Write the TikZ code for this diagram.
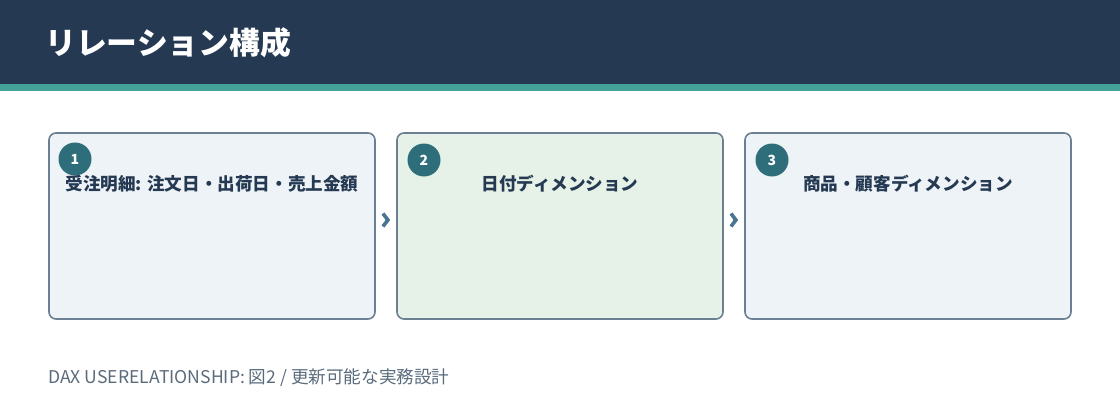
\documentclass[tikz,border=0pt]{standalone}
\usepackage{fontspec}
\setmainfont{Noto Sans CJK JP}
\usetikzlibrary{arrows.meta}
\definecolor{hdr}{HTML}{253A52}
\definecolor{stripe}{HTML}{45A29A}
\definecolor{frame}{HTML}{6B8093}
\definecolor{boxblue}{HTML}{EEF3F8}
\definecolor{boxgreen}{HTML}{E6F2E8}
\definecolor{badge}{HTML}{2E6E7A}
\definecolor{txt}{HTML}{253A52}
\definecolor{chev}{HTML}{4A7590}
\definecolor{foot}{HTML}{5A6B7C}
\tikzset{
  stage/.style={draw=frame, line width=1.6pt, rounded corners=7pt,
    minimum width=326pt, minimum height=186pt, inner sep=0pt},
  num/.style={circle, fill=badge, text=white, minimum size=33pt, inner sep=0pt,
    font=\fontsize{14}{14}\selectfont\bfseries},
  lbl/.style={text=txt, font=\fontsize{17.6}{19}\selectfont\bfseries},
  link/.style={draw=chev, line width=3.6pt, shorten <=9pt, shorten >=6pt,
    -{Straight Barb[length=5pt,width=13pt]}}
}
\begin{document}
\begin{tikzpicture}[x=1pt,y=-1pt]
    \useasboundingbox (0,0) rectangle (1120,420);
    \fill[hdr] (0,0) rectangle (1120,84);
    \fill[stripe] (0,84) rectangle (1120,91);
    \node[anchor=west, inner sep=0pt, text=white, font=\fontsize{30.8}{32}\selectfont\bfseries] (title) at (45,43) {リレーション構成};
    \node[stage, fill=boxblue] (s1) at (212,226) {};
    \node[stage, fill=boxgreen] (s2) at (560,226) {};
    \node[stage, fill=boxblue] (s3) at (908,226) {};
    \node[num] (n1) at (75,159) {1};
    \node[num] (n2) at (424,160) {2};
    \node[num] (n3) at (772,160) {3};
    \node[lbl] (l1) at (212,184) {受注明細: 注文日・出荷日・売上金額};
    \node[lbl] (l2) at (560,184) {日付ディメンション};
    \node[lbl] (l3) at (908,184) {商品・顧客ディメンション};
    \draw[link] ([yshift=6pt]s1.east) to ([yshift=6pt]s2.west);
    \draw[link] ([yshift=6pt]s2.east) to ([yshift=6pt]s3.west);
    \node[anchor=west, inner sep=0pt, text=foot, font=\fontsize{17.6}{19}\selectfont] (cap) at (48,378) {DAX USERELATIONSHIP: 図2 / 更新可能な実務設計};
\end{tikzpicture}
\end{document}
